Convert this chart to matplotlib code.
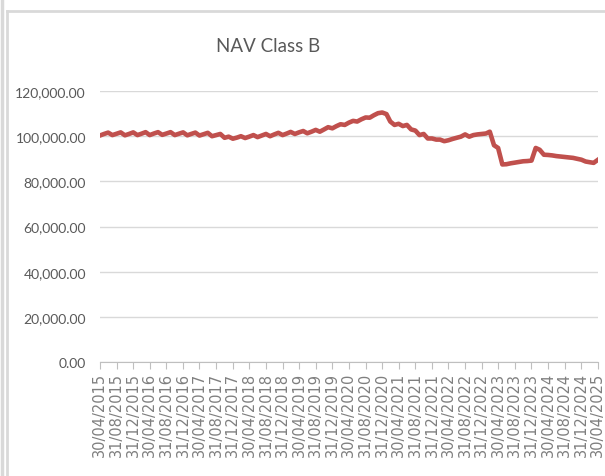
import matplotlib
import matplotlib.pyplot as plt
import matplotlib.ticker as mticker
import pandas as pd
from matplotlib.lines import Line2D

matplotlib.use("Agg")

# monthly NAV, end of month, 30/04/2015 .. 30/04/2025
nav = [
    100300, 101000, 101600, 100500, 101100, 101700, 100400, 101000, 101700, 100500,
    101100, 101800, 100500, 101200, 101800, 100600, 101200, 101800, 100500, 101100,
    101700, 100400, 101000, 101600, 100300, 100900, 101500, 100000, 100500, 101000,
    99300, 99800, 98900, 99400, 100000, 99200, 99800, 100500, 99600, 100300,
    101000, 100000, 100800, 101500, 100500, 101200, 101900, 101000, 101700, 102300,
    101300, 102000, 102800, 102000, 103000, 104000, 103500, 104500, 105300, 105000,
    106000, 106800, 106500, 107500, 108300, 108200, 109300, 110200, 110500, 109800,
    106500, 105000, 105500, 104500, 105000, 103000, 102500, 100500, 101000, 99000,
    99000, 98500, 98500, 97800, 98200, 98800, 99300, 99800, 100800, 99800,
    100500, 100800, 101000, 101200, 102000, 96000, 94800, 87500, 87600, 88000,
    88300, 88600, 88900, 89000, 89200, 94800, 94000, 91800, 91700, 91500,
    91200, 91000, 90800, 90600, 90400, 90000, 89600, 88800, 88500, 88200,
    89500,
]
dates = pd.date_range("2015-04-30", "2025-04-30", freq="ME")
tick_dates = pd.date_range("2015-04-30", "2025-04-30", freq="4ME")

fig = plt.figure(figsize=(6.05, 4.77), dpi=100)
ax = fig.add_axes([0.165, 0.239, 0.823, 0.568])

ax.plot(dates, nav, color="#C0504D", linewidth=3.3)

ax.set_ylim(0, 120000)
ax.set_xlim(dates[0], dates[-1])
ax.yaxis.set_major_locator(mticker.MultipleLocator(20000))
ax.yaxis.set_major_formatter(mticker.FuncFormatter(lambda v, p: f"{v:,.2f}"))
ax.grid(axis="y", color="#D9D9D9", linewidth=1)
ax.set_axisbelow(True)

ax.set_xticks(tick_dates)
ax.set_xticklabels([d.strftime("%d/%m/%Y") for d in tick_dates], rotation=90,
                   fontsize=10.5, color="#7F7F7F", family="DejaVu Sans")
for lbl in ax.get_yticklabels():
    lbl.set_family(["Lato", "DejaVu Sans"])
    lbl.set_fontsize(10)
    lbl.set_color("#595959")

for s in ["top", "right", "left"]:
    ax.spines[s].set_visible(False)
ax.spines["bottom"].set_color("#BFBFBF")
ax.tick_params(axis="y", length=0, pad=10)
ax.tick_params(axis="x", length=5, color="#BFBFBF", pad=2)

fig.text(0.443, 0.903, "NAV Class B", ha="center", va="center", fontsize=13.5,
         color="#595959", family=["Lato", "DejaVu Sans"])

# chart-area frame lines
fig.add_artist(Line2D([0.004, 0.004], [0, 1], color="#D9D9D9", linewidth=2.5))
fig.add_artist(Line2D([0.011, 0.011], [0, 0.975], color="#D9D9D9", linewidth=2))
fig.add_artist(Line2D([0.011, 1], [0.975, 0.975], color="#D9D9D9", linewidth=2))

fig.savefig("out.png", dpi=100)
